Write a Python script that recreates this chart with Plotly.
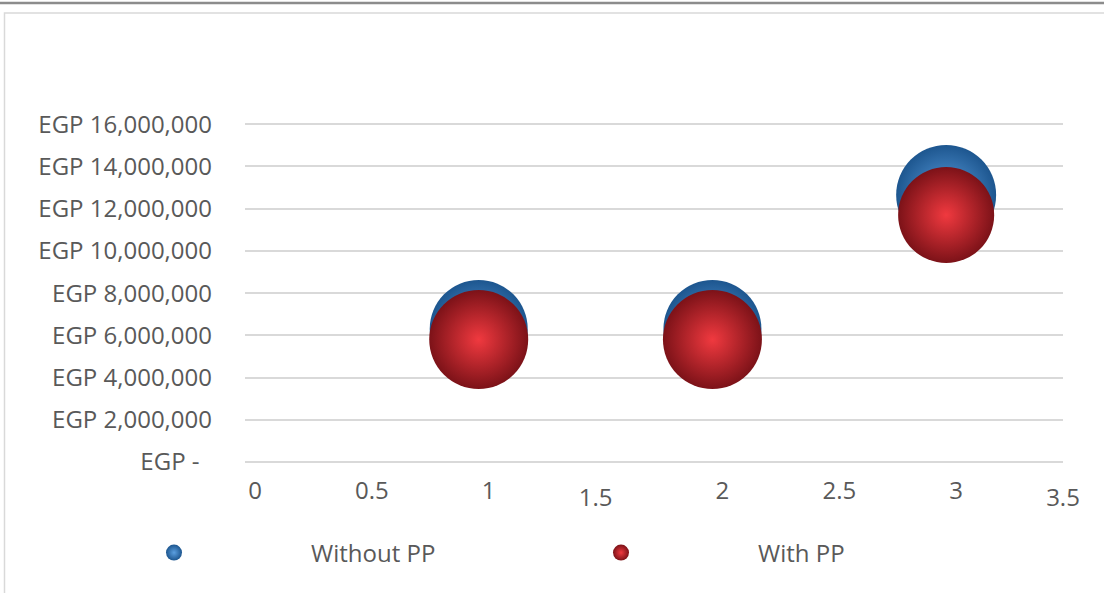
import plotly.graph_objects as go

# Project scenarios and their estimated costs (EGP)
scenario = [1, 2, 3]
cost_without_pp = [6_300_000, 6_300_000, 12_650_000]
cost_with_pp = [5_800_000, 5_800_000, 11_700_000]
# Relative bubble sizes
size_without_pp = [1.0, 1.0, 1.02]
size_with_pp = [1.01, 1.01, 0.98]

series_names = ["Without PP", "With PP"]

x_ticks_upper = [0, 0.5, 1, 2, 2.5, 3]
x_ticks_lower = [1.5, 3.5]
y_ticks = [0, 2_000_000, 4_000_000, 6_000_000, 8_000_000,
           10_000_000, 12_000_000, 14_000_000, 16_000_000]
Y_MAX = 16_200_000


def egp(v):
    return "EGP -\u00a0\u00a0" if v == 0 else f"EGP {v:,}"


W, H = 1104, 593
ML, MR, MT, MB = 245, 41, 120, 131
PW, PH = W - ML - MR, H - MT - MB

FONT = "Open Sans"
FS = 24
TXT = "#595959"
GRID = "#d9d9d9"
BUBBLE_PX = 98


def px_x(p):
    return (p - ML) / PW


def px_y(p):
    return (H - MB - p) / PH


fig = go.Figure()

fig.add_trace(go.Scatter(
    x=scenario, y=cost_without_pp, mode="markers", name=series_names[0],
    marker=dict(size=[s * BUBBLE_PX for s in size_without_pp], sizemode="diameter",
                sizeref=1, opacity=1, color="#1d568f", line=dict(width=0),
                gradient=dict(type="radial", color="#5b9fe0")),
    cliponaxis=False,
))
fig.add_trace(go.Scatter(
    x=scenario, y=cost_with_pp, mode="markers", name=series_names[1],
    marker=dict(size=[s * BUBBLE_PX for s in size_with_pp], sizemode="diameter",
                sizeref=1, opacity=1, color="#7c1218", line=dict(width=0),
                gradient=dict(type="radial", color="#f0393f")),
    cliponaxis=False,
))
# carrier for the secondary (staggered) x tick labels
fig.add_trace(go.Scatter(x=[None], y=[None], xaxis="x2", showlegend=False,
                         hoverinfo="skip"))

fig.update_layout(
    width=W, height=H,
    margin=dict(l=ML, r=MR, t=MT, b=MB),
    paper_bgcolor="white", plot_bgcolor="white",
    font=dict(family=FONT, size=FS, color=TXT),
    showlegend=True,
    legend=dict(orientation="h", x=px_x(37), xanchor="left",
                y=px_y(553), yanchor="middle",
                itemwidth=264, entrywidth=168, entrywidthmode="pixels",
                itemsizing="trace", font=dict(size=FS, color=TXT),
                bgcolor="rgba(0,0,0,0)"),
    xaxis=dict(range=[0, 3.5], showgrid=False, zeroline=False, showline=False,
               tickvals=x_ticks_upper, ticktext=[f"{v:g}" for v in x_ticks_upper],
               ticks="", ticklabelstandoff=12, ticklabelshift=10,
               tickfont=dict(size=FS, color=TXT)),
    xaxis2=dict(overlaying="x", matches="x", anchor="y", side="bottom",
                range=[0, 3.5], showgrid=False, zeroline=False, showline=False,
                tickvals=x_ticks_lower, ticktext=[f"{v:g}" for v in x_ticks_lower],
                ticks="", ticklabelstandoff=19,
                tickfont=dict(size=FS, color=TXT)),
    yaxis=dict(range=[0, Y_MAX], tickvals=y_ticks,
               ticktext=[egp(v) for v in y_ticks],
               showgrid=True, gridcolor=GRID, gridwidth=1.5,
               zeroline=True, zerolinecolor=GRID, zerolinewidth=1.5,
               showline=False, ticks="", ticklabelstandoff=32,
               tickfont=dict(size=FS, color=TXT)),
    shapes=[
        # top rule
        dict(type="line", xref="paper", yref="paper",
             x0=px_x(0), x1=px_x(W), y0=px_y(3), y1=px_y(3),
             line=dict(color="#8c8c8c", width=2.5)),
        # chart frame
        dict(type="rect", xref="paper", yref="paper",
             x0=px_x(4.5), x1=px_x(W + 10), y0=px_y(13), y1=px_y(H + 10),
             line=dict(color="#d9d9d9", width=1.5), layer="below"),
    ],
)

fig.write_html("out.html")
